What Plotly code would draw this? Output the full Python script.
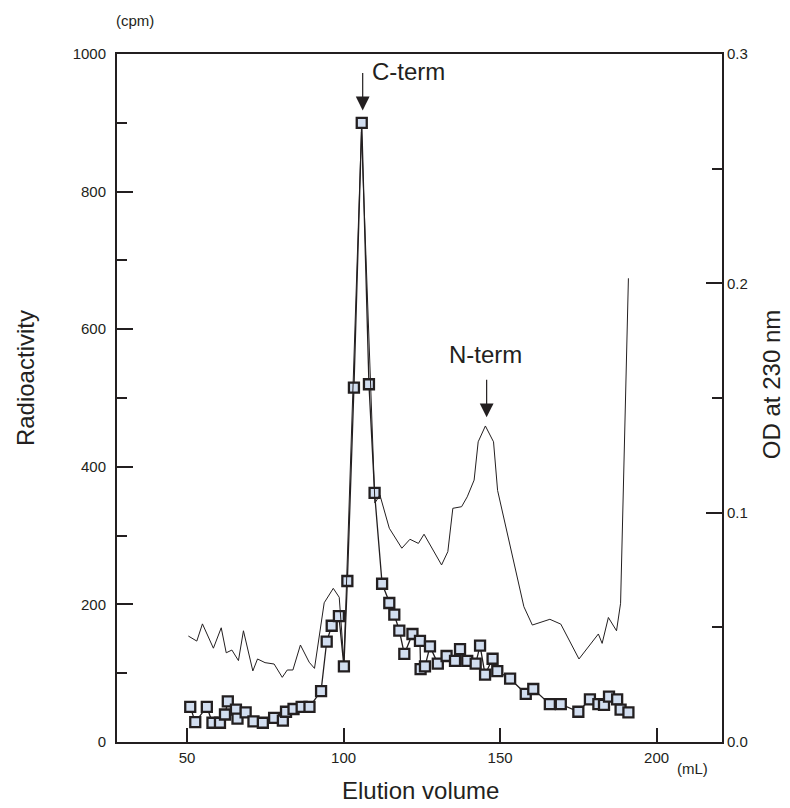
import plotly.graph_objects as go

# Radioactivity (cpm) vs elution volume (mL)
rad_x = [51.0, 52.6, 56.3, 58.1, 60.5, 62.1, 63.0, 65.6, 66.1, 68.7, 71.2, 74.2, 77.8, 80.6, 81.6,
         84.0, 86.6, 89.1, 92.8, 94.6, 96.2, 98.5, 100.1, 101.2, 103.3, 105.8, 108.1, 109.9, 112.3,
         114.6, 116.2, 117.8, 119.4, 122.0, 124.4, 124.6, 126.0, 127.6, 130.1, 132.9, 135.6, 137.2,
         139.5, 142.2, 143.6, 145.2, 147.6, 149.1, 153.2, 158.2, 160.6, 165.9, 169.4, 175.0, 178.7,
         181.4, 183.2, 184.8, 187.4, 188.5, 191.0]
rad_y = [51, 29, 51, 28, 28, 40, 59, 47, 34, 43, 30, 28, 35, 31, 44,
         48, 51, 51, 74, 146, 169, 183, 110, 234, 515, 900, 520, 362, 230,
         202, 185, 162, 128, 157, 147, 106, 110, 139, 114, 125, 118, 135,
         118, 114, 140, 98, 121, 103, 92, 70, 77, 55, 55, 44, 62,
         55, 54, 66, 62, 47, 43]

# Absorbance (OD at 230 nm) vs elution volume (mL)
od_x = [50.4, 53.1, 54.9, 58.4, 60.9, 62.5, 64.3, 66.4, 68.0, 71.0, 72.5, 74.9, 77.8, 80.4, 82.0,
        83.8, 86.2, 89.0, 90.7, 93.8, 96.7, 98.6, 100.1, 105.7, 110.0, 111.6, 114.6, 118.6, 121.2,
        123.9, 125.7, 131.3, 133.3, 134.9, 137.7, 139.5, 141.7, 143.0, 145.3, 147.9, 149.2, 157.6,
        160.3, 165.9, 169.4, 175.2, 181.4, 182.6, 184.6, 187.2, 188.5, 191.0]
od_y = [0.0462, 0.0440, 0.0515, 0.0409, 0.0498, 0.0389, 0.0401, 0.0355, 0.0485, 0.0310, 0.0362,
        0.0346, 0.0340, 0.0282, 0.0314, 0.0314, 0.0423, 0.0348, 0.0321, 0.0607, 0.0670, 0.0631,
        0.0349, 0.266, 0.1042, 0.1077, 0.0932, 0.0845, 0.0884, 0.0866, 0.0906, 0.0772, 0.0830,
        0.1019, 0.1026, 0.1069, 0.1142, 0.1309, 0.1378, 0.1309, 0.1097, 0.0590, 0.0510, 0.0535,
        0.0514, 0.0362, 0.0471, 0.0430, 0.0543, 0.0485, 0.0605, 0.2022]

x_ticks = [50, 100, 150, 200]
y_ticks = [0, 200, 400, 600, 800, 1000]
y2_ticks = [0.0, 0.1, 0.2, 0.3]

peaks = [("C-term", 106.1, 918, 120.6, 974), ("N-term", 145.7, 472, 145.3, 563)]

INK = "#231f20"
FONT = "Liberation Sans, Arial, sans-serif"
TITLE_SIZE = 24
TICK_SIZE = 15

fig = go.Figure()
fig.add_trace(go.Scatter(x=od_x, y=od_y, mode="lines", yaxis="y2",
                         line=dict(color=INK, width=1), hoverinfo="skip", showlegend=False))
fig.add_trace(go.Scatter(x=rad_x, y=rad_y, mode="lines+markers",
                         line=dict(color=INK, width=1.3),
                         marker=dict(symbol="square", size=10, color="#d2def0",
                                     line=dict(color=INK, width=2.3)),
                         showlegend=False))

ann = []
for label, px, py, tx, ty in peaks:
    ann.append(dict(x=px, y=py, xref="x", yref="y", text="", showarrow=True,
                    ax=0, ay=-39, arrowhead=2, arrowsize=2.3, arrowwidth=1.2,
                    arrowcolor=INK))
    ann.append(dict(x=tx, y=ty, xref="x", yref="y", text=label, showarrow=False,
                    xanchor="center", yanchor="middle",
                    font=dict(size=TITLE_SIZE, color=INK, family=FONT)))

def paper_text(x, y, text, size, angle=0):
    return dict(x=x, y=y, xref="paper", yref="paper", text=text, showarrow=False,
                xanchor="center", yanchor="middle", textangle=angle,
                font=dict(size=size, color=INK, family=FONT))

ann += [
    paper_text(0.0298, 1.049, "(cpm)", TICK_SIZE),
    paper_text(0.952, -0.038, "(mL)", TICK_SIZE),
    paper_text(0.501, -0.0698, "Elution volume", TITLE_SIZE),
    paper_text(-0.152, 0.529, "Radioactivity", TITLE_SIZE, -90),
    paper_text(1.083, 0.519, "OD at 230 nm", TITLE_SIZE, -90),
]

fig.update_layout(
    width=790, height=808,
    margin=dict(l=109, r=76, t=46, b=74),
    paper_bgcolor="white", plot_bgcolor="white",
    font=dict(family=FONT, color=INK, size=TICK_SIZE),
    annotations=ann,
    xaxis=dict(range=[27.6, 220.9], tickvals=x_ticks, ticks="inside", ticklen=14, tickwidth=2,
               tickcolor=INK, showline=True, linecolor=INK, linewidth=2, mirror=True,
               showgrid=False, zeroline=False, ticklabelstandoff=1,
               tickfont=dict(size=TICK_SIZE, color=INK)),
    yaxis=dict(range=[0, 1000], tickvals=y_ticks, ticks="inside", ticklen=16, tickwidth=2,
               tickcolor=INK, showline=True, linecolor=INK, linewidth=2,
               showgrid=False, zeroline=False, ticklabelstandoff=6,
               minor=dict(dtick=100, ticks="inside", ticklen=10, tickwidth=2, tickcolor=INK,
                          showgrid=False),
               tickfont=dict(size=TICK_SIZE, color=INK)),
    yaxis2=dict(range=[0, 0.3], tickvals=y2_ticks, tickformat=".1f", overlaying="y",
                side="right", ticks="inside", ticklen=16, tickwidth=2, tickcolor=INK,
                showline=True, linecolor=INK, linewidth=2, showgrid=False, zeroline=False,
                ticklabelstandoff=0,
                minor=dict(dtick=0.05, ticks="inside", ticklen=10, tickwidth=2, tickcolor=INK,
                           showgrid=False),
                tickfont=dict(size=TICK_SIZE, color=INK)),
)

fig.write_html("out.html")
